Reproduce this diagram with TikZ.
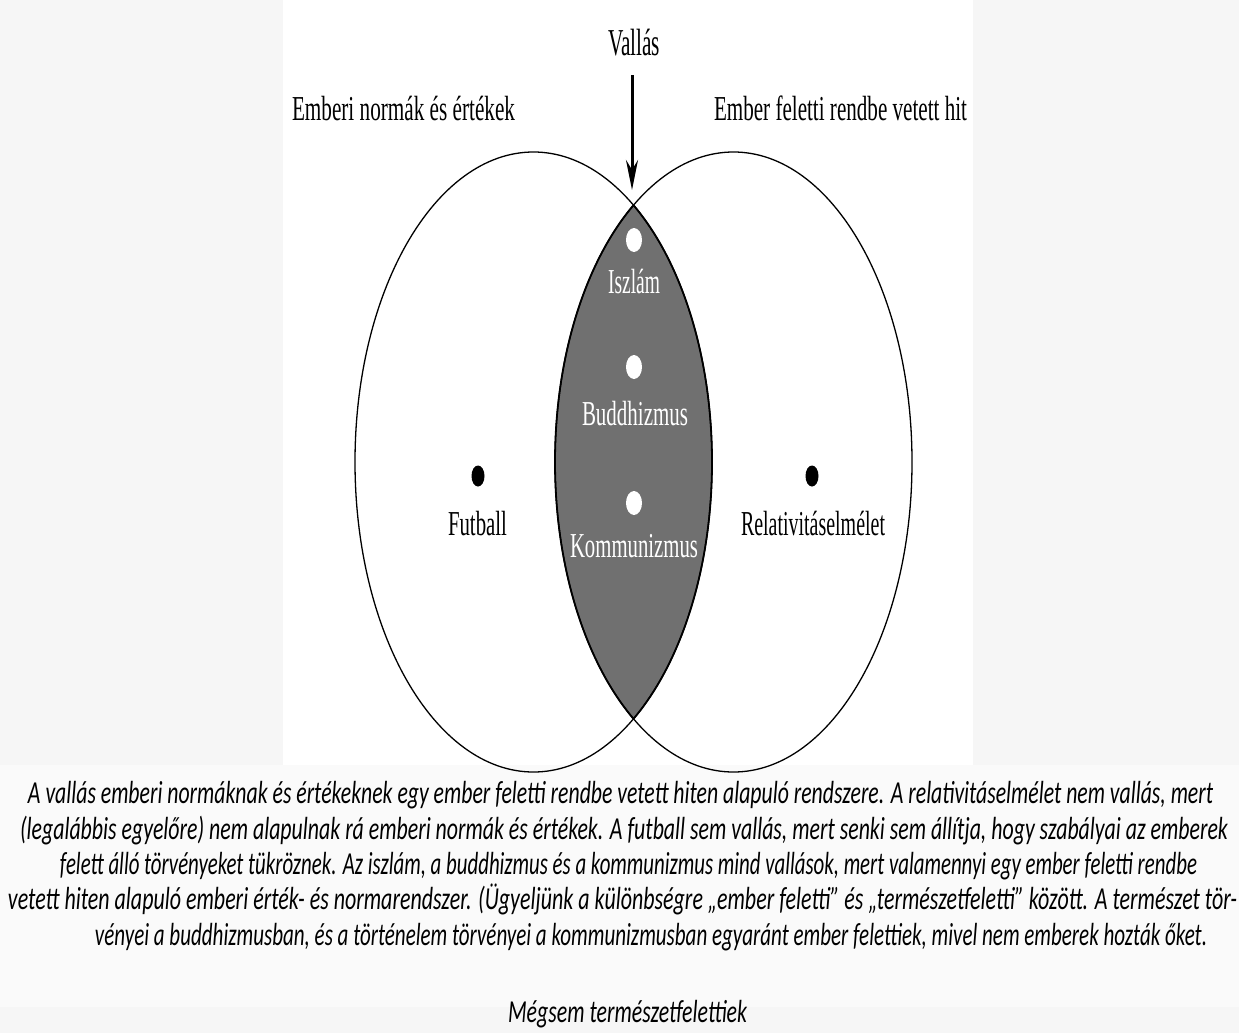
\documentclass[tikz,border=0pt]{standalone}
\usepackage{fontspec}
\usepackage{graphicx}
\setmainfont{Liberation Serif}
\newfontfamily\capfont{Carlito}
\usetikzlibrary{arrows.meta,shapes.geometric}
\definecolor{bgout}{RGB}{246,246,246}
\definecolor{bgcap}{RGB}{250,250,250}
\definecolor{lensgray}{RGB}{112,112,112}
\newcommand{\fitw}[2]{\resizebox{#1pt}{\height}{#2}}
\begin{document}
\begin{tikzpicture}[x=1pt,y=-1pt,
  lbl/.style={inner sep=0pt, anchor=base, font=\fontsize{35}{35}\selectfont},
  wlbl/.style={lbl, text=white},
  captxt/.style={inner sep=0pt, anchor=base, font=\capfont\itshape\fontsize{32}{32}\selectfont},
  bdot/.style={shape=ellipse, fill=black, minimum width=13pt, minimum height=21pt, inner sep=0pt},
  wdot/.style={shape=ellipse, fill=white, minimum width=16pt, minimum height=24pt, inner sep=0pt},
  circ/.style={draw=black, line width=1.3pt},
  arr/.style={line width=3pt, -{Stealth[length=30pt,width=12pt]}}]
\useasboundingbox (0,0) rectangle (1239,1033);
% backgrounds
\fill[bgout] (0,0) rectangle (1239,1033);
\fill[white] (283,0) rectangle (973,765);
\fill[bgcap] (0,765) rectangle (1239,1007);
% ellipse centres
\coordinate (cl) at (533.5,462);
\coordinate (cr) at (733.5,462);
% lens
\begin{scope}
  \clip (cl) ellipse [x radius=178.5, y radius=310];
  \fill[lensgray] (cr) ellipse [x radius=178.5, y radius=310];
\end{scope}
\begin{scope}
  \clip (cl) ellipse [x radius=178.5, y radius=310];
  \draw[line width=1.8pt] (cr) ellipse [x radius=178.5, y radius=310];
\end{scope}
\begin{scope}
  \clip (cr) ellipse [x radius=178.5, y radius=310];
  \draw[line width=1.8pt] (cl) ellipse [x radius=178.5, y radius=310];
\end{scope}
\draw[circ] (cl) ellipse [x radius=178.5, y radius=310];
\draw[circ] (cr) ellipse [x radius=178.5, y radius=310];
% top labels
\node[lbl, font=\fontsize{38}{38}\selectfont] (vallas) at (634,56) {\fitw{52}{Vallás}};
\node[lbl] (emb) at (403.5,120) {\fitw{223}{Emberi normák és értékek}};
\node[lbl] (feletti) at (840.5,120) {\fitw{253}{Ember feletti rendbe vetett hit}};
\coordinate (tip) at (632,190);
\coordinate (tail) at (632,75);
\draw[arr] (tail) -- (tip);
% dots and labels
\node[wdot] (d1) at (634,240) {};
\node[wdot] (d2) at (634,367) {};
\node[wdot] (d3) at (634,503) {};
\node[bdot] (d4) at (478,476) {};
\node[bdot] (d5) at (812,476) {};
\node[wlbl] (iszlam) at (634,293) {\fitw{52}{Iszlám}};
\node[wlbl] (budd) at (635,425) {\fitw{106}{Buddhizmus}};
\node[wlbl] (komm) at (634,557) {\fitw{128}{Kommunizmus}};
\node[lbl] (fut) at (477.5,535) {\fitw{59}{Futball}};
\node[lbl] (rel) at (813,535) {\fitw{144}{Relativitáselmélet}};
% caption
\node[captxt] (c1) at (620.5,803) {\fitw{1185}{A vallás emberi normáknak és értékeknek egy ember feletti rendbe vetett hiten alapuló rendszere. A relativitáselmélet nem vallás, mert}};
\node[captxt] (c2) at (624,839) {\fitw{1208}{(legalábbis egyelőre) nem alapulnak rá emberi normák és értékek. A futball sem vallás, mert senki sem állítja, hogy szabályai az emberek}};
\node[captxt] (c3) at (628.5,874) {\fitw{1137}{felett álló törvényeket tükröznek. Az iszlám, a buddhizmus és a kommunizmus mind vallások, mert valamennyi egy ember feletti rendbe}};
\node[captxt] (c4) at (622.5,909) {\fitw{1229}{vetett hiten alapuló emberi érték- és normarendszer. (Ügyeljünk a különbségre „ember feletti” és „természetfeletti” között. A természet tör-}};
\node[captxt] (c5) at (651,945) {\fitw{1112}{vényei a buddhizmusban, és a történelem törvényei a kommunizmusban egyaránt ember felettiek, mivel nem emberek hozták őket.}};
\node[captxt] (c6) at (627.5,1022) {\fitw{239}{Mégsem természetfelettiek}};
\end{tikzpicture}
\end{document}
